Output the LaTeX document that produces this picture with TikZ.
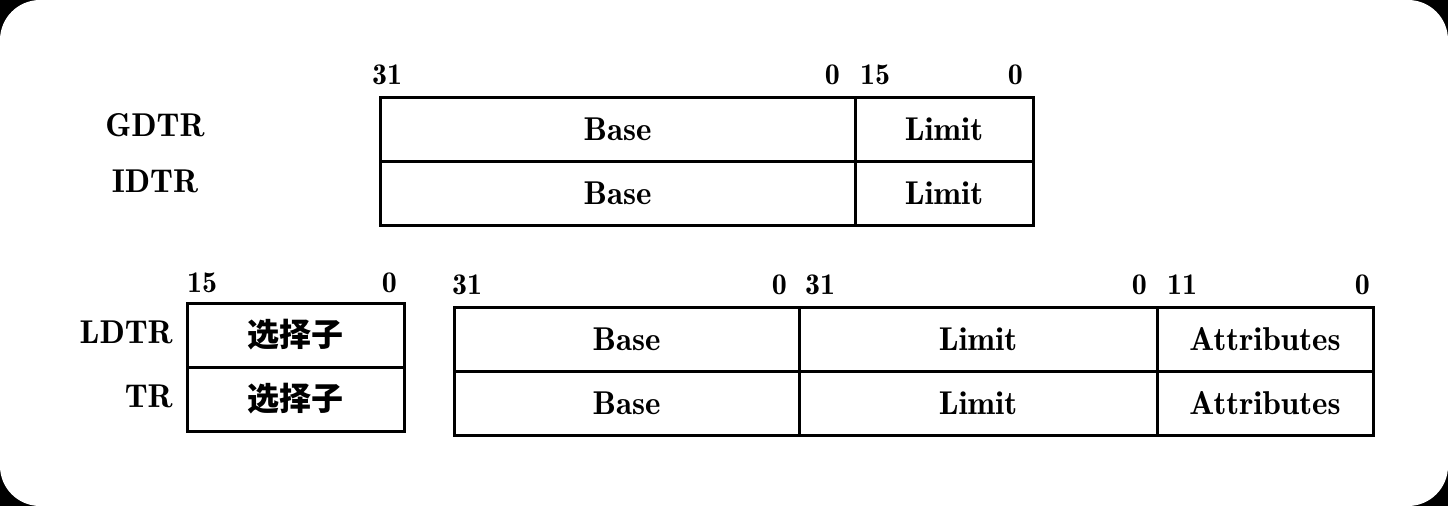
\documentclass[tikz,border=0pt]{standalone}
\usepackage{fontspec}
\setmainfont{lmromandemi10-regular.otf}
\newfontfamily\cjk{Noto Sans CJK SC}
\newcommand{\wordfont}{\fontsize{33}{39}\selectfont}
\newcommand{\numfont}{\fontsize{30}{36}\selectfont}
\newcommand{\zhfont}{\cjk\bfseries\fontsize{32}{38}\selectfont}
\begin{document}
\begin{tikzpicture}[x=1pt,y=-1pt,
  cell/.style={draw, line width=3pt, minimum height=64pt, inner sep=0pt,
    text height=22pt, text depth=0pt, font=\wordfont},
  zhcell/.style={cell, font=\zhfont},
  numw/.style={font=\numfont, inner sep=0pt, anchor=base west},
  nume/.style={font=\numfont, inner sep=0pt, anchor=base east},
  reglabel/.style={font=\wordfont, inner sep=0pt, anchor=base},
  reglabelr/.style={font=\wordfont, inner sep=0pt, anchor=base east}]
\fill[black] (0,0) rectangle (1448,506);
\fill[white, rounded corners=40pt] (0,0) rectangle (1448,506);
\useasboundingbox (0,0) rectangle (1448,506);

% GDTR / IDTR
\node[reglabel] (gdtr) at (155,136) {GDTR};
\node[reglabel] (idtr) at (155,192) {IDTR};
\node[cell, minimum width=475pt] (gbase) at (617.5,129) {Base};
\node[cell, minimum width=178pt] (glimit) at (944,129) {Limit};
\node[cell, minimum width=475pt] (ibase) at (617.5,193) {Base};
\node[cell, minimum width=178pt] (ilimit) at (944,193) {Limit};
\node[numw] (t31) at (372,84) {31};
\node[nume] (t0a) at (840,84) {0};
\node[numw] (t15) at (860,84) {15};
\node[nume] (t0b) at (1023,84) {0};

% LDTR / TR selectors
\node[reglabelr] (ldtr) at (173,343) {LDTR};
\node[reglabelr] (tr) at (173,407) {TR};
\node[zhcell, minimum width=217pt] (lsel) at (295.5,335) {选择子};
\node[zhcell, minimum width=217pt] (tsel) at (295.5,399) {选择子};
\node[numw] (s15) at (187,292) {15};
\node[nume] (s0) at (397,292) {0};

% hidden part
\node[cell, minimum width=345pt] (lbase) at (626.5,339) {Base};
\node[cell, minimum width=358pt] (llimit) at (978,339) {Limit};
\node[cell, minimum width=216pt] (lattr) at (1265,339) {Attributes};
\node[cell, minimum width=345pt] (tbase) at (626.5,403) {Base};
\node[cell, minimum width=358pt] (tlimit) at (978,403) {Limit};
\node[cell, minimum width=216pt] (tattr) at (1265,403) {Attributes};
\node[numw] (h31a) at (452,294) {31};
\node[nume] (h0a) at (787,294) {0};
\node[numw] (h31b) at (805,294) {31};
\node[nume] (h0b) at (1147,294) {0};
\node[numw] (h11) at (1167,294) {11};
\node[nume] (h0c) at (1370,294) {0};
\end{tikzpicture}
\end{document}
